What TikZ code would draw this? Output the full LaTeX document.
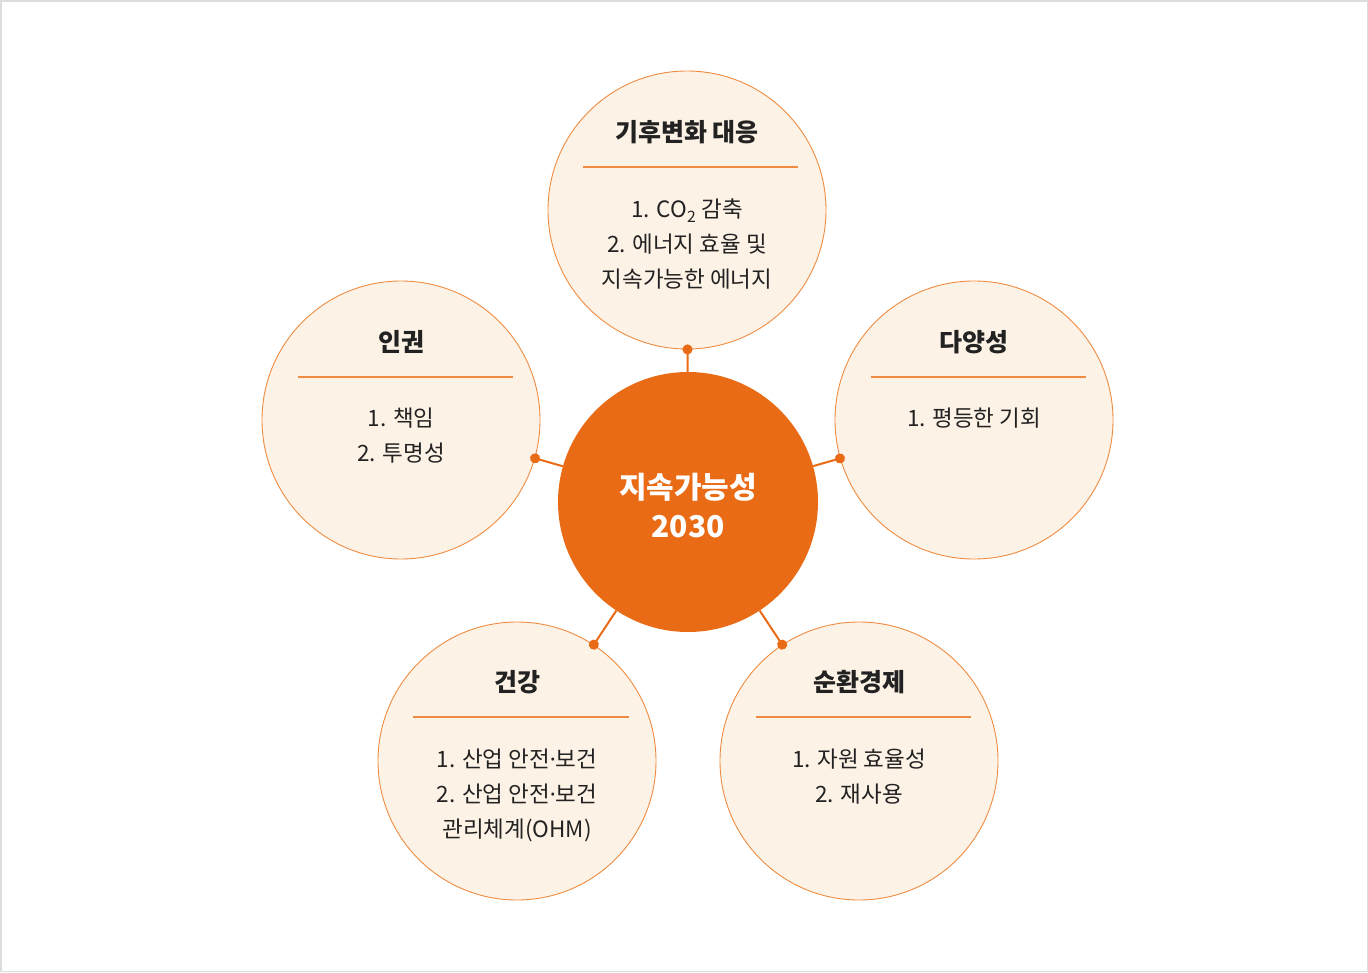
\documentclass[tikz,border=0pt]{standalone}
\usepackage{fontspec}
\setmainfont{Noto Sans CJK KR}
\newfontfamily\dotfont{Noto Sans}
\usetikzlibrary{positioning,calc,arrows.meta}

\definecolor{hub}{HTML}{EA6B15}
\definecolor{petal}{HTML}{FDF2E6}
\definecolor{petalline}{HTML}{EF8C42}
\definecolor{ink}{HTML}{222222}
\definecolor{frame}{HTML}{DDDDDD}

\newcommand{\middot}{{\dotfont ·}}

\tikzstyle{hubnode} = [circle, minimum size=260pt, inner sep=0pt, fill=hub, text=white, align=center, font=\fontsize{30}{39}\selectfont\bfseries]
\tikzstyle{petalnode} = [circle, minimum size=278pt, inner sep=0pt, fill=petal, draw=petalline, line width=0.9pt]
\tikzstyle{title} = [text=ink, font=\fontsize{25}{30}\selectfont\bfseries]
\tikzstyle{items} = [anchor=north, text=ink, align=center, inner sep=0pt, font=\fontsize{22.5}{35}\selectfont]
\tikzstyle{divider} = [draw=petalline, line width=1.2pt]
\tikzstyle{link} = [draw=hub, line width=2pt, {Circle[length=10pt]}-, shorten <=-5pt]

\begin{document}
\begin{tikzpicture}[x=1pt, y=-1pt]
  \useasboundingbox (0,0) rectangle (1368,972);
  \draw [frame, line width=1.5pt] (0.75,0.75) rectangle (1367.25,971.25);

  \node (sustain) [hubnode] at (688,502) {\raisebox{0pt}[\dimexpr\height+8pt]{지속가능성}\\2030};

  \node (climate) [petalnode] at (687,210) {};
  \node (rights) [petalnode] at (401,420) {};
  \node (diversity) [petalnode] at (974,420) {};
  \node (health) [petalnode] at (517,761) {};
  \node (circular) [petalnode] at (859,761) {};

  \draw [link] (climate) -- (sustain);
  \draw [link] (rights) -- (sustain);
  \draw [link] (diversity) -- (sustain);
  \draw [link] (health) -- (sustain);
  \draw [link] (circular) -- (sustain);

  % climate
  \node (climate title) [title] at ($(climate)+(0,-78)$) {기후변화 대응};
  \draw [divider] ($(climate)+(-104,-43)$) -- ($(climate)+(111,-43)$);
  \node (climate items) [items] at ($(climate)+(0,-11)$) {1. CO\textsubscript{2} 감축\\2. 에너지 효율 및\\지속가능한 에너지};

  % rights
  \node (rights title) [title] at ($(rights)+(0,-78)$) {인권};
  \draw [divider] ($(rights)+(-103,-43)$) -- ($(rights)+(112,-43)$);
  \node (rights items) [items] at ($(rights)+(0,-12)$) {1. 책임\\2. 투명성};

  % diversity
  \node (diversity title) [title] at ($(diversity)+(0,-78)$) {다양성};
  \draw [divider] ($(diversity)+(-103,-43)$) -- ($(diversity)+(112,-43)$);
  \node (diversity items) [items] at ($(diversity)+(0,-12)$) {1. 평등한 기회};

  % health
  \node (health title) [title] at ($(health)+(0,-79)$) {건강};
  \draw [divider] ($(health)+(-104,-44)$) -- ($(health)+(112,-44)$);
  \node (health items) [items] at ($(health)+(0,-12)$) {1. 산업 안전\middot 보건\\2. 산업 안전\middot 보건\\관리체계(OHM)};

  % circular
  \node (circular title) [title] at ($(circular)+(0,-79)$) {순환경제};
  \draw [divider] ($(circular)+(-103,-44)$) -- ($(circular)+(112,-44)$);
  \node (circular items) [items] at ($(circular)+(0,-12)$) {1. 자원 효율성\\2. 재사용};
\end{tikzpicture}
\end{document}
